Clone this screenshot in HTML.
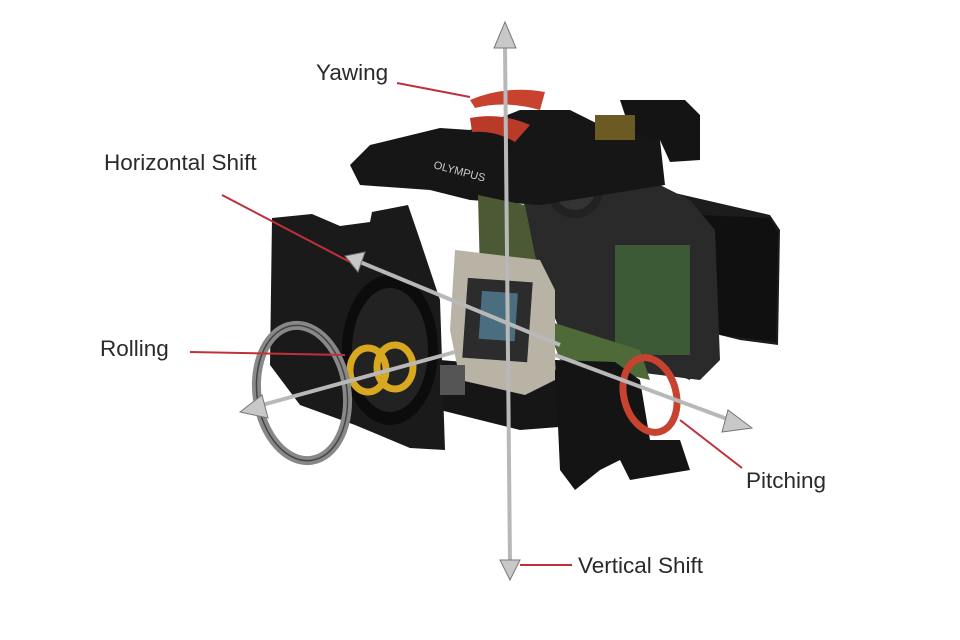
<!DOCTYPE html>
<html><head><meta charset="utf-8"><style>
html,body{margin:0;padding:0;background:#fff;}
svg{display:block;}
text{font-family:"Liberation Sans",sans-serif;font-size:22.5px;fill:#2a2a2a;}
</style></head><body>
<svg width="960" height="640" viewBox="0 0 960 640" xmlns="http://www.w3.org/2000/svg">
<rect width="960" height="640" fill="#fff"/>
<polygon points="640,185 770,215 780,230 778,345 740,340 700,330 690,380 640,360" fill="#1c1c1c"/>
<polygon points="700,215 770,218 778,232 776,342 720,335" fill="#101010"/>
<polygon points="520,165 640,165 660,185 690,200 715,230 720,360 700,380 620,370 560,330 530,260" fill="#2a2a2a"/>
<rect x="615" y="245" width="75" height="110" fill="#3c5a35"/>
<circle cx="575" cy="190" r="28" fill="#222"/>
<circle cx="575" cy="190" r="20" fill="#333"/>
<polygon points="350,165 370,145 440,128 470,130 520,110 570,110 600,125 640,120 660,140 665,185 540,205 470,200 430,190 360,185" fill="#161616"/>
<polygon points="620,100 685,100 700,115 700,160 670,162 660,140 630,130" fill="#141414"/>
<rect x="595" y="115" width="40" height="25" fill="#6b5a22"/>
<text x="433" y="168" style="font-size:11px;fill:#ccc" transform="rotate(15 433 168)">OLYMPUS</text>
<polygon points="478,195 525,205 540,280 480,275" fill="#4b5a34"/>
<polygon points="545,320 640,350 650,380 560,360" fill="#4d6a38"/>
<polygon points="440,360 560,370 590,400 585,425 520,430 440,410" fill="#161616"/>
<polygon points="555,360 615,362 640,380 650,440 680,440 690,470 630,480 620,460 600,470 575,490 560,470" fill="#141414"/>
<polygon points="272,218 312,214 340,226 370,222 372,212 408,205 420,240 440,300 445,450 410,448 355,425 300,405 270,365" fill="#1a1a1a"/>
<ellipse cx="390" cy="350" rx="48" ry="75" fill="#0c0c0c"/>
<ellipse cx="390" cy="350" rx="38" ry="62" fill="#222"/>
<polygon points="455,250 540,260 555,290 555,380 525,395 460,380 450,330" fill="#b9b3a6"/>
<rect x="465" y="280" width="65" height="80" fill="#2c2c2c" transform="rotate(4 497 320)"/>
<rect x="480" y="292" width="36" height="48" fill="#4a6e80" transform="rotate(4 497 320)"/>
<rect x="440" y="365" width="25" height="30" fill="#555"/>
<ellipse cx="368" cy="370" rx="18" ry="22" fill="none" stroke="#d8a820" stroke-width="7"/>
<ellipse cx="395" cy="367" rx="18" ry="22" fill="none" stroke="#d8a820" stroke-width="7"/>
<ellipse cx="302" cy="393" rx="45" ry="68" fill="none" stroke="#888" stroke-width="9" transform="rotate(-8 302 393)"/>
<ellipse cx="302" cy="393" rx="45" ry="68" fill="none" stroke="#444" stroke-width="1.5" transform="rotate(-8 302 393)"/>
<path d="M470,100 Q505,85 545,92 L540,110 Q505,100 475,108 Z" fill="#c8432f"/>
<path d="M470,118 Q500,112 530,125 L515,142 Q495,130 472,132 Z" fill="#b93a28"/>
<ellipse cx="650" cy="395" rx="26" ry="38" fill="none" stroke="#c8432f" stroke-width="7" transform="rotate(-15 650 395)"/>
<g stroke="#b8b8b8" stroke-width="4" fill="#c8c8c8">
<line x1="505" y1="45" x2="510" y2="565"/>
<line x1="360" y1="262" x2="560" y2="345"/>
<line x1="555" y1="355" x2="730" y2="420"/>
<line x1="262" y1="405" x2="455" y2="352"/>
</g>
<polygon points="505,22 494,48 516,48" fill="#c8c8c8" stroke="#777"/>
<polygon points="510,580 500,560 520,560" fill="#c8c8c8" stroke="#777"/>
<polygon points="345,256 365,252 358,272" fill="#c8c8c8" stroke="#777"/>
<polygon points="752,428 728,410 722,432" fill="#c8c8c8" stroke="#777"/>
<polygon points="240,412 262,395 268,418" fill="#c8c8c8" stroke="#777"/>
<g stroke="#c0303a" stroke-width="2" fill="none">
<line x1="397" y1="83" x2="470" y2="97"/>
<line x1="222" y1="195" x2="350" y2="262"/>
<line x1="190" y1="352" x2="345" y2="355"/>
<line x1="742" y1="468" x2="680" y2="420"/>
<line x1="520" y1="565" x2="572" y2="565"/>
</g>
<text x="316" y="80">Yawing</text>
<text x="104" y="170">Horizontal Shift</text>
<text x="100" y="356">Rolling</text>
<text x="746" y="488">Pitching</text>
<text x="578" y="573">Vertical Shift</text>
</svg>
</body></html>
